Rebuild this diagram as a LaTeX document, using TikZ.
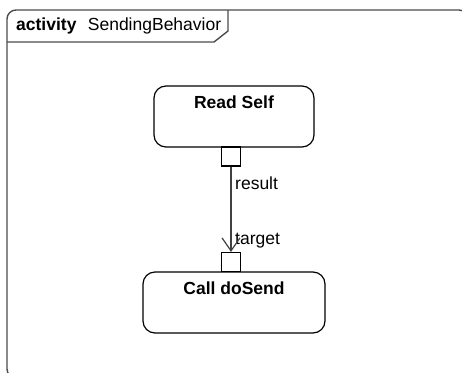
\documentclass[tikz,border=0pt]{standalone}
\usepackage{fontspec}
\setmainfont{Liberation Sans}
\usetikzlibrary{arrows.meta}
\begin{document}
\begin{tikzpicture}[x=1pt,y=-1pt,
  lbl/.style={font=\fontsize{17.5}{20}\selectfont, inner sep=0pt},
  actbox/.style={draw=black, line width=1.2pt, rounded corners=12pt, fill=white},
  pinbox/.style={draw=black, line width=1.2pt, fill=white, minimum size=19pt, inner sep=0pt},
  frameline/.style={draw=black!70, line width=1.4pt}
]
\useasboundingbox (0,0) rectangle (462,372);
\begin{scope}
\clip (0,0) rectangle (462,372);
\draw[frameline, rounded corners=9pt] (7,10) rectangle (468,378);
\end{scope}
% header
\draw[frameline] (7,42) -- (214,42) -- (228,31) -- (228,10);
\node[lbl, anchor=base west] (hdr) at (16,30) {\textbf{activity}\hspace{0.65em}SendingBehavior};
% actions
\draw[actbox] (154,86) rectangle (314,147);
\node[lbl, anchor=base] (rs) at (234,108) {\textbf{Read Self}};
\draw[actbox] (143,272) rectangle (325,333);
\node[lbl, anchor=base] (cd) at (234,294) {\textbf{Call doSend}};
% pins
\node[pinbox] (result) at (231,156.5) {};
\node[pinbox] (target) at (231,262) {};
\node[lbl, anchor=base west] (rl) at (235,189) {result};
\node[lbl, anchor=base west] (tl) at (235,244) {target};
% flow
\draw[draw=black!75, line width=1.2pt, -{Straight Barb[length=13pt,width=18pt,line width=1.2pt]}] (result.south) -- (target.north);
\end{tikzpicture}
\end{document}
